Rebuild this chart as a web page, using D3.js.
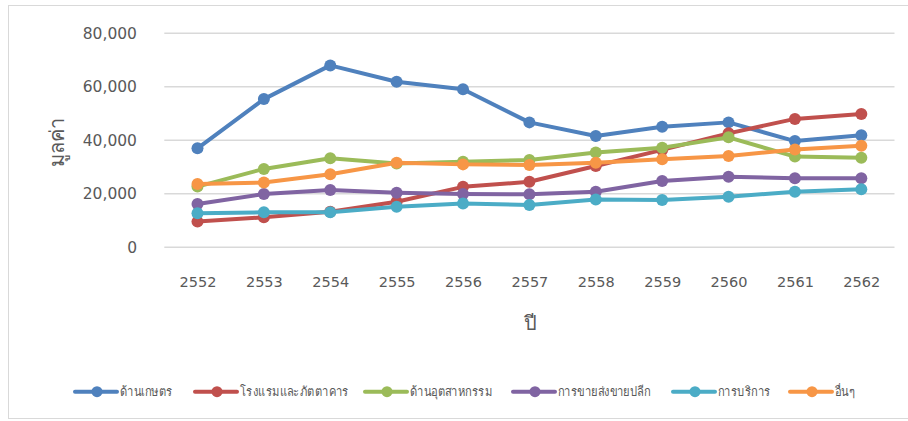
<!DOCTYPE html>
<html><head><meta charset="utf-8">
<script src="https://cdn.jsdelivr.net/npm/d3@7"></script>
<style>body{margin:0;background:#fff}svg{display:block}</style>
</head><body>
<svg id="c" width="908" height="421"></svg>
<script>
const years = ["2552","2553","2554","2555","2556","2557","2558","2559","2560","2561","2562"];
const yTicks = [0, 20000, 40000, 60000, 80000];
const seriesNames = ["ด้านเกษตร","โรงแรมและภัตตาคาร","ด้านอุตสาหกรรม","การขายส่งขายปลีก","การบริการ","อื่นๆ"];
const seriesColors = ["#4F81BD","#C0504D","#9BBB59","#8064A2","#4BACC6","#F79646"];
const agriculture = [37000,55400,68000,61900,59100,46700,41600,45100,46700,39700,41900];
const hotels      = [9600,11200,13300,17000,22600,24500,30400,36400,42600,48000,49800];
const industry    = [22700,29300,33300,31300,32000,32600,35400,37200,41100,33900,33500];
const trade       = [16200,19900,21400,20400,19900,19800,20800,24800,26400,25800,25800];
const services    = [12700,13100,13100,15200,16400,15800,17900,17700,18900,20800,21700];
const others      = [23700,24200,27300,31600,31000,30800,31600,32900,34100,36600,38000];
const seriesValues = [agriculture, hotels, industry, trade, services, others];

(function(){
const svg = d3.select("#c");
const font = "'DejaVu Sans', 'Noto Sans', sans-serif";
const textColor = "#595959";

svg.append("rect").attr("x",8.5).attr("y",5.5).attr("width",905).attr("height",413)
  .attr("fill","none").attr("stroke","#D9D9D9").attr("stroke-width",1);

const pLeft = 164.3, pRight = 894.5, pTop = 33.3, pBottom = 247.3;
const x = d3.scalePoint().domain(years).range([pLeft, pRight]).padding(0.5);
const y = d3.scaleLinear().domain([0, 80000]).range([pBottom, pTop]);

svg.append("g").selectAll("line").data(yTicks).join("line")
  .attr("x1", pLeft).attr("x2", pRight)
  .attr("y1", d => y(d)).attr("y2", d => y(d))
  .attr("stroke", "#D9D9D9").attr("stroke-width", 1.5);

const yAxis = d3.axisLeft(y).tickValues(yTicks).tickFormat(d3.format(",")).tickSize(0).tickPadding(0);
const gy = svg.append("g").attr("transform", "translate(137,0)").call(yAxis);
gy.select(".domain").remove();
gy.selectAll("text").attr("fill", textColor).style("font-family", font).style("font-size", "15.5px");

const xAxis = d3.axisBottom(x).tickSize(0).tickPadding(0);
const gx = svg.append("g").attr("transform", "translate(0,277)").call(xAxis);
gx.select(".domain").remove();
gx.selectAll("text").attr("fill", textColor).style("font-family", font).style("font-size", "14.5px");

svg.append("text").attr("x", 530).attr("y", 330).attr("text-anchor","middle")
  .attr("fill", textColor).style("font-family", font).style("font-size","20px").text("ปี");
svg.append("text").attr("transform","translate(64,142) rotate(-90)").attr("text-anchor","middle")
  .attr("fill", textColor).style("font-family", font).style("font-size","20px").text("มูลค่า");

const line = d3.line().x((d,i) => x(years[i])).y(d => y(d));
seriesValues.forEach((vals, si) => {
  const g = svg.append("g");
  g.append("path").datum(vals).attr("d", line).attr("fill","none")
    .attr("stroke", seriesColors[si]).attr("stroke-width", 4).attr("stroke-linejoin","round");
  g.selectAll("circle").data(vals).join("circle")
    .attr("cx", (d,i) => x(years[i])).attr("cy", d => y(d)).attr("r", 6)
    .attr("fill", seriesColors[si]);
});

const legendX = [75, 195, 365, 513, 673, 790];
const legendY = 391.7;
seriesNames.forEach((name, i) => {
  const g = svg.append("g").attr("transform", `translate(${legendX[i]},${legendY})`);
  g.append("line").attr("x1",0).attr("x2",42).attr("y1",0).attr("y2",0)
    .attr("stroke", seriesColors[i]).attr("stroke-width",4).attr("stroke-linecap","round");
  g.append("circle").attr("cx",22).attr("cy",0).attr("r",5.5).attr("fill", seriesColors[i]);
  g.append("text").attr("transform","translate(45,0) scale(0.86,1)").attr("dy","0.35em")
    .attr("fill", textColor).style("font-family", font).style("font-size","13px").text(name);
});
})();
</script>
</body></html>
